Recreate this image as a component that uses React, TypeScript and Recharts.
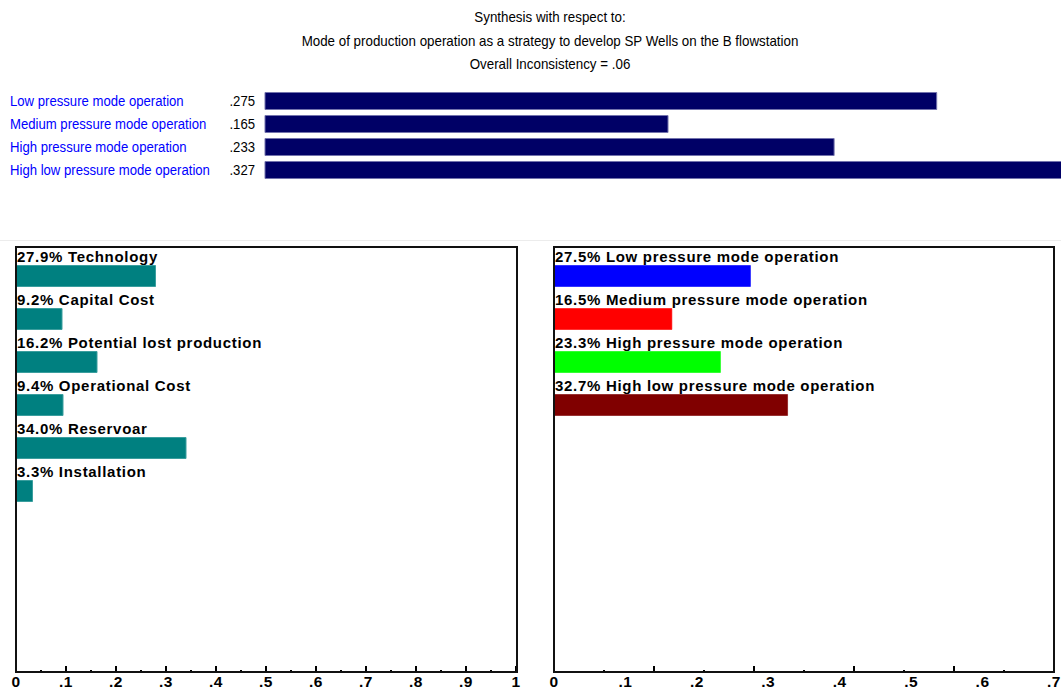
import { Bar, BarChart, Cell, LabelList, XAxis, YAxis } from 'recharts'

const titleLines = [
  'Synthesis with respect to:',
  'Mode of production operation as a strategy to develop SP Wells on the B flowstation',
  'Overall Inconsistency = .06',
]

const alternatives = [
  'Low pressure mode operation',
  'Medium pressure mode operation',
  'High pressure mode operation',
  'High low pressure mode operation',
]
const alternativeScores = [0.275, 0.165, 0.233, 0.327]
const alternativeColors = ['#0000ff', '#ff0000', '#00ff00', '#800000']

const criteria = [
  'Technology',
  'Capital Cost',
  'Potential lost production',
  'Operational Cost',
  'Reservoar',
  'Installation',
]
const criteriaWeights = [0.279, 0.092, 0.162, 0.094, 0.34, 0.033]

const leftAxisLabels = [0, 0.1, 0.2, 0.3, 0.4, 0.5, 0.6, 0.7, 0.8, 0.9, 1]
const leftAxisMinor = [0.05, 0.15, 0.25, 0.35, 0.45, 0.55, 0.65, 0.75, 0.85, 0.95]
const rightAxisLabels = [0, 0.1, 0.2, 0.3, 0.4, 0.5, 0.6, 0.7]
const rightAxisMajor = [0.14, 0.28, 0.42, 0.56]
const rightAxisMinor = [0.07, 0.21, 0.35, 0.49, 0.63]

const sans = "'Liberation Sans', Arial, sans-serif"

const fmtTick = (v: number) => (v === 0 ? '0' : v === 1 ? '1' : String(v).replace(/^0/, ''))
const fmtScore = (v: number) => v.toFixed(3).replace(/^0/, '')
const pct = (v: number) => (v * 100).toFixed(1) + '%'

const topData = alternatives.map((name, i) => ({ name, value: alternativeScores[i] }))
const leftData = criteria.map((name, i) => ({
  name,
  value: criteriaWeights[i],
  label: `${pct(criteriaWeights[i])} ${name}`,
}))
const rightData = alternatives.map((name, i) => ({
  name,
  value: alternativeScores[i],
  label: `${pct(alternativeScores[i])} ${name}`,
}))

function makeTick(labels: number[], major: number[], minor: number[]) {
  return (props: any) => {
    const { x, y, payload } = props
    const v = payload.value
    const len = major.includes(v) ? 6 : minor.includes(v) ? 2 : 0
    return (
      <g>
        {len > 0 && <line x1={x} x2={x} y1={y} y2={y - len} stroke="#000" strokeWidth={2} />}
        {labels.includes(v) && (
          <text
            x={x}
            y={y + 15}
            textAnchor="middle"
            fontFamily={sans}
            fontWeight="bold"
            fontSize={15.5}
            letterSpacing={0.5}
            fill="#000"
          >
            {fmtTick(v)}
          </text>
        )}
      </g>
    )
  }
}

const BarLabel = (props: any) => {
  const { x, y, value } = props
  return (
    <text
      x={x + 1}
      y={y - 4}
      fontFamily={sans}
      fontWeight="bold"
      fontSize={15}
      letterSpacing={0.7}
      fill="#000"
    >
      {value}
    </text>
  )
}

// narrow-looking text: regular face squeezed horizontally
const TopTick = (props: any) => {
  const { y, payload, index } = props
  return (
    <g>
      <text
        transform={`translate(10 ${y}) scale(0.9 1)`}
        dominantBaseline="central"
        fontFamily={sans}
        fontSize={14.6}
        fill="#0000ff"
      >
        {payload.value}
      </text>
      <text
        transform={`translate(255 ${y}) scale(0.9 1)`}
        dominantBaseline="central"
        textAnchor="end"
        fontFamily={sans}
        fontSize={14.6}
        fill="#000"
      >
        {fmtScore(alternativeScores[index])}
      </text>
    </g>
  )
}

const panelBox = (left: number, width: number) => ({
  position: 'absolute' as const,
  left,
  top: 246,
  width,
  height: 427,
  border: '2px solid #111',
  boxSizing: 'border-box' as const,
  pointerEvents: 'none' as const,
})

export default function App() {
  return (
    <div
      style={{
        position: 'absolute',
        left: 0,
        top: 0,
        width: 1061,
        height: 691,
        overflow: 'hidden',
        background: '#fff',
      }}
    >
      <div
        style={{
          position: 'absolute',
          left: 0,
          top: 5,
          width: 1100,
          textAlign: 'center',
          fontFamily: sans,
          fontSize: 15,
          lineHeight: '23.5px',
          color: '#000',
          transform: 'scaleX(0.89)',
          transformOrigin: '550px 0',
        }}
      >
        {titleLines.map((t) => (
          <div key={t}>{t}</div>
        ))}
      </div>

      <div style={{ position: 'absolute', left: 0, top: 80 }}>
        <BarChart
          width={1250}
          height={110}
          data={topData}
          layout="vertical"
          margin={{ top: 9.5, right: 8, bottom: 8.5, left: 0 }}
        >
          <XAxis type="number" domain={[0, 0.4]} hide />
          <YAxis
            type="category"
            dataKey="name"
            width={265}
            axisLine={false}
            tickLine={false}
            tick={<TopTick />}
            interval={0}
          />
          <Bar
            dataKey="value"
            fill="#000066"
            stroke="#7373ad"
            strokeWidth={1}
            barSize={17}
            isAnimationActive={false}
          />
        </BarChart>
      </div>

      <div style={{ position: 'absolute', left: 0, top: 240, width: 1061, height: 1, background: '#ececec' }} />

      <div style={{ position: 'absolute', left: 0, top: 240 }}>
        <BarChart
          width={540}
          height={451}
          data={leftData}
          layout="vertical"
          margin={{ top: 7, right: 24, bottom: 0, left: 16 }}
        >
          <XAxis
            type="number"
            domain={[0, 1]}
            ticks={[...leftAxisLabels, ...leftAxisMinor]}
            interval={0}
            height={19}
            tickSize={0}
            tickMargin={0}
            axisLine={{ stroke: '#111', strokeWidth: 2 }}
            tick={makeTick(leftAxisLabels, leftAxisLabels, leftAxisMinor)}
          />
          <YAxis type="category" dataKey="name" hide width={0} padding={{ top: 7.5, bottom: 159.5 }} />
          <Bar
            dataKey="value"
            fill="#008080"
            stroke="#3a9e9e"
            strokeWidth={1}
            barSize={21}
            isAnimationActive={false}
          >
            <LabelList dataKey="label" content={<BarLabel />} />
          </Bar>
        </BarChart>
      </div>
      <div style={panelBox(15, 503)} />

      <div style={{ position: 'absolute', left: 540, top: 240 }}>
        <BarChart
          width={521}
          height={451}
          data={rightData}
          layout="vertical"
          margin={{ top: 7, right: 7, bottom: 0, left: 14 }}
        >
          <XAxis
            type="number"
            domain={[0, 0.7]}
            ticks={[...rightAxisLabels, ...rightAxisMajor, ...rightAxisMinor]}
            interval={0}
            height={19}
            tickSize={0}
            tickMargin={0}
            axisLine={{ stroke: '#111', strokeWidth: 2 }}
            tick={makeTick(rightAxisLabels, rightAxisMajor, rightAxisMinor)}
          />
          <YAxis type="category" dataKey="name" hide width={0} padding={{ top: 7.5, bottom: 245.5 }} />
          <Bar dataKey="value" strokeWidth={1} barSize={21} isAnimationActive={false}>
            {rightData.map((d, i) => (
              <Cell key={d.name} fill={alternativeColors[i]} stroke={alternativeColors[i]} strokeOpacity={0.6} />
            ))}
            <LabelList dataKey="label" content={<BarLabel />} />
          </Bar>
        </BarChart>
      </div>
      <div style={panelBox(553, 502)} />
    </div>
  )
}
